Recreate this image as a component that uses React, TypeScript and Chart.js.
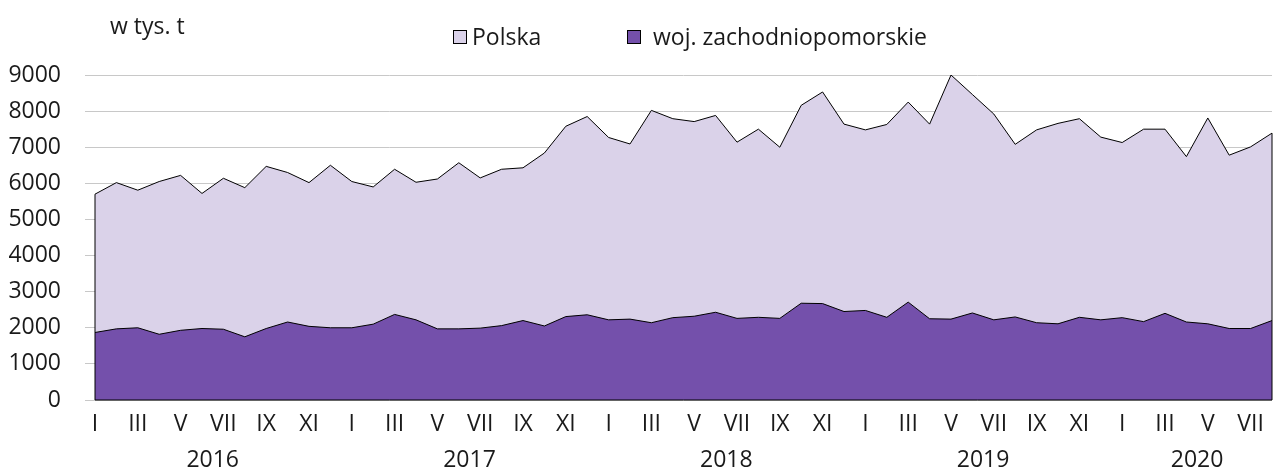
import React, { useEffect, useRef } from 'react';
import { Chart, registerables } from 'chart.js';

Chart.register(...registerables);

const monthNames = ['I', 'II', 'III', 'IV', 'V', 'VI', 'VII', 'VIII', 'IX', 'X', 'XI', 'XII'];
const years = ['2016', '2017', '2018', '2019', '2020'];
const monthsPerYear = [12, 12, 12, 12, 8];
const categories: string[] = years.flatMap((_, k) => monthNames.slice(0, monthsPerYear[k]));

const seriesNames = ['Polska', 'woj. zachodniopomorskie'];

const polska = [
  5700, 6020, 5810, 6050, 6220, 5720, 6140, 5880, 6470, 6300,
  6020, 6500, 6050, 5900, 6390, 6030, 6120, 6570, 6150, 6390,
  6430, 6840, 7580, 7850, 7270, 7090, 8020, 7790, 7710, 7880,
  7140, 7500, 7000, 8160, 8530, 7640, 7480, 7630, 8250, 7640,
  9000, 8460, 7920, 7080, 7480, 7660, 7790, 7280, 7130, 7500,
  7500, 6740, 7810, 6780, 7010, 7390,
];

const zachodniopomorskie = [
  1870, 1970, 2000, 1820, 1930, 1980, 1960, 1750, 1980, 2160,
  2040, 2000, 2000, 2100, 2370, 2220, 1970, 1970, 1990, 2060,
  2200, 2050, 2310, 2360, 2220, 2240, 2140, 2280, 2320, 2430,
  2260, 2290, 2260, 2680, 2670, 2450, 2480, 2290, 2710, 2250,
  2240, 2410, 2220, 2300, 2140, 2110, 2290, 2220, 2280, 2170,
  2400, 2160, 2110, 1980, 1980, 2200,
];

const yMin = 0;
const yMax = 9000;
const yStep = 1000;
const unitLabel = 'w tys. t';

const FONT = '"Open Sans", "Noto Sans", sans-serif';
const FSIZE = 23;
const TEXT = '#1a1a1a';
const LIGHT = '#dad2e9';
const DARK = '#7450ab';

const decorPlugin = {
  id: 'decor',
  afterDatasetsDraw(chart: any) {
    const ctx = chart.ctx;
    const y = chart.scales.y;
    const meta = chart.getDatasetMeta(1);
    const pts = meta.data;
    if (!pts.length) return;
    const first = pts[0];
    const last = pts[pts.length - 1];
    const base = y.getPixelForValue(0);
    ctx.save();
    ctx.strokeStyle = '#000';
    ctx.lineWidth = 1;
    ctx.beginPath();
    ctx.moveTo(first.x, first.y);
    ctx.lineTo(first.x, base);
    ctx.lineTo(last.x, base);
    ctx.lineTo(last.x, last.y);
    ctx.stroke();
    ctx.restore();
  },
  afterDraw(chart: any) {
    const ctx = chart.ctx;
    const x = chart.scales.x;
    ctx.save();
    ctx.fillStyle = TEXT;
    ctx.font = `${FSIZE}px ${FONT}`;
    ctx.textAlign = 'center';
    ctx.textBaseline = 'middle';
    let start = 0;
    years.forEach((yr, k) => {
      const end = start + monthsPerYear[k] - 1;
      const cx = (x.getPixelForValue(start) + x.getPixelForValue(end)) / 2;
      ctx.fillText(yr, cx, 460);
      start = end + 1;
    });
    ctx.textAlign = 'left';
    ctx.fillText(unitLabel, 110, 27);
    const items = [
      { text: seriesNames[0], color: LIGHT, boxX: 453, textX: 472 },
      { text: seriesNames[1], color: DARK, boxX: 627, textX: 653 },
    ];
    items.forEach((it) => {
      ctx.fillStyle = it.color;
      ctx.fillRect(it.boxX, 30, 14, 14);
      ctx.strokeStyle = '#000';
      ctx.lineWidth = 1;
      ctx.strokeRect(it.boxX + 0.5, 30.5, 13, 13);
      ctx.fillStyle = TEXT;
      ctx.fillText(it.text, it.textX, 38);
    });
    ctx.restore();
  },
};

export default function App() {
  const ref = useRef<HTMLCanvasElement | null>(null);

  useEffect(() => {
    if (!ref.current) return;
    const chart = new Chart(ref.current, {
      type: 'line',
      data: {
        labels: categories,
        datasets: [
          {
            label: seriesNames[1],
            data: zachodniopomorskie,
            backgroundColor: DARK,
            borderColor: '#000',
            borderWidth: 1,
            fill: 'origin',
            pointRadius: 0,
            tension: 0,
          },
          {
            label: seriesNames[0],
            data: polska,
            backgroundColor: LIGHT,
            borderColor: '#000',
            borderWidth: 1,
            fill: 'origin',
            pointRadius: 0,
            tension: 0,
          },
        ],
      },
      options: {
        animation: false,
        responsive: true,
        maintainAspectRatio: false,
        layout: { padding: { top: 75, right: 1, left: 0, bottom: 0 } },
        plugins: {
          legend: { display: false },
          tooltip: { enabled: false },
        },
        scales: {
          x: {
            type: 'category',
            offset: false,
            grid: { display: false, drawTicks: false },
            border: { display: false },
            ticks: {
              autoSkip: false,
              maxRotation: 0,
              minRotation: 0,
              padding: 11,
              color: TEXT,
              font: { family: FONT, size: FSIZE },
              callback: (_v: any, i: number) => (i % 2 === 0 ? categories[i] : ''),
            },
            afterFit: (s: any) => {
              s.height = 70;
            },
          },
          y: {
            min: yMin,
            max: yMax,
            ticks: {
              stepSize: yStep,
              padding: 24,
              color: TEXT,
              font: { family: FONT, size: FSIZE },
              callback: (v: any) => String(v),
            },
            grid: { color: '#c8c8c8', lineWidth: 1, drawTicks: true, tickLength: 10 },
            border: { display: false },
            afterFit: (s: any) => {
              s.width = 95;
            },
          },
        },
      },
      plugins: [decorPlugin],
    });
    return () => chart.destroy();
  }, []);

  return (
    <div style={{ position: 'absolute', left: 0, top: 0, width: 1283, height: 470, background: '#fff' }}>
      <canvas ref={ref} />
    </div>
  );
}
